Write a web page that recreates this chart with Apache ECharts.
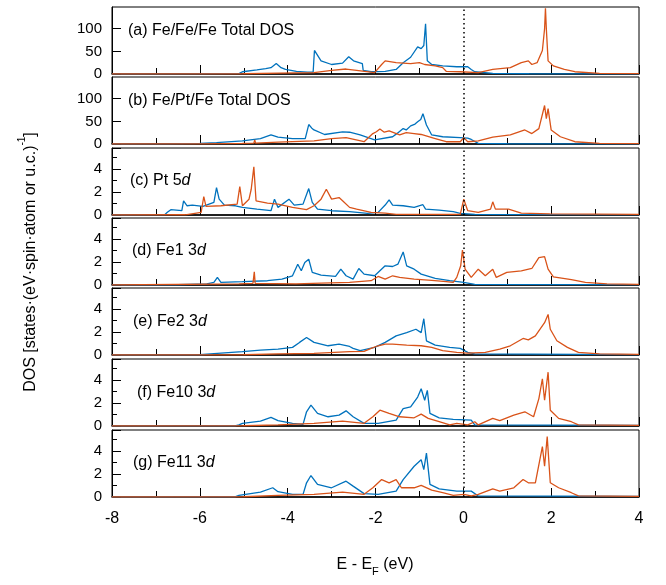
<!DOCTYPE html>
<html>
<head>
<meta charset="utf-8">
<script src="https://cdn.jsdelivr.net/npm/echarts@6/dist/echarts.min.js"></script>
<style>
  html, body { margin: 0; padding: 0; background: #fff; }
  #chart { width: 666px; height: 585px; }
</style>
</head>
<body>
<div id="chart"></div>
<script>
// [E - EF (eV), DOS] pairs, blue = one spin, orange = other
var aBlue = [[-8,0],[-6.5,0.3],[-5.8,1],[-5.1,1.5],[-5.03,5],[-4.7,9],[-4.5,12],[-4.38,14],[-4.26,23],[-4.15,14],[-4.05,10],[-3.8,6],[-3.55,4],[-3.42,4],[-3.39,52],[-3.24,29],[-3.0,21],[-2.75,24],[-2.61,38],[-2.5,29],[-2.3,23],[-2.28,8],[-2.1,5],[-1.78,6],[-1.53,10],[-1.37,25],[-1.2,37],[-1.04,60],[-0.96,56],[-0.9,63],[-0.86,111],[-0.82,29],[-0.72,21],[-0.47,18],[-0.15,16],[0.1,16],[0.18,10],[0.26,5],[0.67,1.5],[1.5,0.5],[4,0.3]];
var aOrange = [[-8,0],[-5,0.5],[-4.2,2],[-3.4,3],[-3.0,8],[-2.67,11],[-2.43,8],[-2.02,3],[-1.86,21],[-1.78,29],[-1.53,25],[-1.2,23],[-1.0,25],[-0.88,21],[-0.64,18],[-0.47,14],[-0.39,6],[-0.07,5],[0.34,3],[0.67,10],[1.07,14],[1.32,25],[1.48,29],[1.56,21],[1.68,25],[1.8,52],[1.85,100],[1.87,145],[1.89,100],[1.93,29],[2.05,18],[2.3,10],[2.54,5],[3.1,1.5],[4,1]];

var bBlue = [[-8,0],[-6.74,0.3],[-6.0,1.5],[-5.62,3],[-5.6,6],[-5.58,3],[-5.03,7],[-4.62,12],[-4.38,20],[-4.22,15],[-3.89,12],[-3.6,12],[-3.52,43],[-3.45,35],[-3.4,31],[-3.16,21],[-2.75,27],[-2.59,26],[-2.35,20],[-2.02,9],[-1.61,16],[-1.5,24],[-1.37,34],[-1.3,31],[-1.2,40],[-1.1,44],[-1.04,49],[-0.97,54],[-0.92,67],[-0.84,42],[-0.72,20],[-0.47,16],[-0.07,14],[0.1,13],[0.18,10],[0.34,1.5],[1,0.5],[4,0.3]];
var bOrange = [[-8,0],[-5.9,0.3],[-5.03,1.5],[-4.77,2],[-4.75,9],[-4.73,2],[-4.22,4],[-3.4,7],[-3.0,12],[-2.67,14],[-2.26,5],[-2.06,23],[-1.98,27],[-1.9,33],[-1.8,26],[-1.69,29],[-1.45,20],[-1.3,25],[-1.12,23],[-0.96,21],[-0.64,12],[-0.39,5],[-0.07,5],[0.01,14],[0.1,5],[0.34,7],[0.67,15],[1.07,20],[1.4,31],[1.56,23],[1.72,34],[1.85,85],[1.89,56],[1.93,78],[2.0,31],[2.21,16],[2.54,5],[3.1,1.5],[4,1]];

var cBlue = [[-8,0],[-6.8,0.03],[-6.74,0.23],[-6.66,0.46],[-6.41,0.37],[-6.37,1.23],[-6.29,0.8],[-6.17,0.86],[-5.93,0.74],[-5.68,1.09],[-5.62,2.37],[-5.56,1.37],[-5.44,0.86],[-5.19,0.8],[-5.03,0.66],[-4.7,0.51],[-4.38,0.37],[-4.3,1.37],[-4.22,0.66],[-3.97,1.37],[-3.85,0.86],[-3.65,0.94],[-3.52,2.29],[-3.44,1.09],[-3.32,0.51],[-3.0,0.37],[-2.59,0.29],[-2.18,0.14],[-1.94,0.23],[-1.78,0.86],[-1.69,1.31],[-1.61,0.86],[-1.37,0.8],[-1.12,0.66],[-0.92,0.89],[-0.86,0.51],[-0.55,0.43],[-0.23,0.29],[-0.07,0.14],[0.26,0.06],[4,0.03]];
var cOrange = [[-8,0],[-6.33,0.02],[-5.97,0.23],[-5.91,1.6],[-5.86,0.74],[-5.52,0.8],[-5.15,0.94],[-5.09,2.46],[-5.03,0.8],[-4.88,1.37],[-4.83,2.23],[-4.77,4.17],[-4.72,1.23],[-4.46,1.03],[-4.22,0.94],[-3.89,0.66],[-3.57,0.46],[-3.4,0.8],[-3.24,1.37],[-3.12,2.23],[-3.0,1.37],[-2.83,1.51],[-2.75,1.23],[-2.59,0.66],[-2.43,0.51],[-2.1,0.23],[-1.78,0.17],[-1.53,0.06],[-0.07,0.06],[0.01,1.37],[0.1,0.37],[0.34,0.23],[0.62,0.51],[0.67,1.14],[0.73,0.51],[1.03,0.51],[1.32,0.17],[1.97,0.09],[4,0.05]];

var dBlue = [[-8,0],[-6.5,0.02],[-5.84,0.09],[-5.68,0.23],[-5.6,0.66],[-5.52,0.23],[-5.03,0.29],[-4.46,0.37],[-4.13,0.51],[-3.89,0.8],[-3.77,1.8],[-3.69,1.23],[-3.61,1.94],[-3.52,2.23],[-3.44,1.09],[-3.24,0.86],[-2.91,0.74],[-2.79,1.37],[-2.67,0.8],[-2.51,0.51],[-2.38,1.43],[-2.26,0.94],[-2.02,0.8],[-1.78,1.66],[-1.61,1.6],[-1.49,1.8],[-1.37,2.86],[-1.29,1.66],[-1.12,1.37],[-0.96,0.94],[-0.64,0.57],[-0.31,0.37],[0.01,0.23],[0.26,0.06],[4,0.03]];
var dOrange = [[-8,0],[-5.11,0.09],[-4.79,0.14],[-4.76,1.14],[-4.74,0.14],[-3.81,0.09],[-3.24,0.17],[-2.59,0.23],[-2.1,0.37],[-1.94,0.74],[-1.78,0.51],[-1.61,0.8],[-1.45,0.66],[-1.12,0.51],[-0.72,0.4],[-0.39,0.29],[-0.23,0.23],[-0.15,0.66],[-0.06,1.66],[-0.02,3.03],[0.04,1.37],[0.18,0.66],[0.34,1.37],[0.5,0.8],[0.67,1.37],[0.75,0.66],[0.99,1.09],[1.32,1.23],[1.56,1.43],[1.72,2.37],[1.85,2.46],[1.93,1.37],[2.05,0.71],[2.46,0.46],[2.78,0.23],[3.27,0.09],[4,0.05]];

var eBlue = [[-8,0],[-6,0.02],[-5.6,0.14],[-5.03,0.29],[-4.62,0.43],[-4.22,0.51],[-3.89,0.66],[-3.73,1.09],[-3.57,1.51],[-3.4,1.09],[-3.08,0.8],[-2.83,0.94],[-2.59,0.74],[-2.51,0.57],[-2.35,0.37],[-2.02,0.66],[-1.78,1.09],[-1.53,1.66],[-1.29,1.94],[-1.08,2.23],[-0.96,1.94],[-0.9,3.14],[-0.84,1.23],[-0.64,0.86],[-0.31,0.66],[-0.07,0.57],[0.1,0.23],[0.26,0.09],[4,0.03]];
var eOrange = [[-8,0],[-5,0.02],[-4.22,0.09],[-3.4,0.14],[-2.59,0.29],[-2.26,0.31],[-2.1,0.57],[-1.94,0.8],[-1.78,0.94],[-1.61,0.94],[-1.29,0.86],[-0.96,0.8],[-0.72,0.66],[-0.47,0.37],[-0.15,0.23],[0.1,0.17],[0.5,0.23],[0.83,0.51],[1.07,0.8],[1.36,1.43],[1.48,1.31],[1.64,1.66],[1.85,2.8],[1.93,3.51],[1.98,2.23],[2.13,1.23],[2.37,0.66],[2.62,0.23],[3.1,0.09],[4,0.05]];

var fBlue = [[-8,0],[-5.2,0.02],[-5.11,0.09],[-5.03,0.23],[-4.62,0.43],[-4.38,0.74],[-4.22,0.46],[-3.89,0.23],[-3.65,0.14],[-3.57,1.23],[-3.47,1.8],[-3.32,1.09],[-3.08,0.8],[-2.83,0.94],[-2.67,1.31],[-2.51,0.8],[-2.26,0.23],[-1.94,0.23],[-1.53,0.51],[-1.37,1.51],[-1.2,1.66],[-1.04,2.51],[-0.96,3.23],[-0.88,2.23],[-0.82,3.09],[-0.76,1.09],[-0.55,0.71],[-0.23,0.57],[0.18,0.51],[0.26,0.09],[4,0.05]];
var fOrange = [[-8,0],[-5,0.02],[-4.22,0.09],[-3.4,0.23],[-2.75,0.43],[-2.26,0.23],[-2.06,0.8],[-1.9,1.37],[-1.69,1.09],[-1.45,0.8],[-1.12,0.71],[-0.96,1.03],[-0.8,0.66],[-0.55,0.37],[-0.31,0.09],[-0.15,0.23],[0.1,0.09],[0.26,0.37],[0.34,0.09],[0.67,0.66],[0.83,0.46],[1.15,0.94],[1.4,1.23],[1.6,0.8],[1.72,2.37],[1.8,4.09],[1.85,2.23],[1.93,4.66],[1.98,1.37],[2.17,0.66],[2.46,0.37],[2.62,0.09],[4,0.05]];

var gBlue = [[-8,0],[-5.2,0.02],[-5.11,0.14],[-4.62,0.43],[-4.34,0.8],[-4.22,0.46],[-3.89,0.23],[-3.65,0.23],[-3.57,1.23],[-3.47,1.86],[-3.32,1.09],[-3.0,0.8],[-2.67,1.37],[-2.51,0.94],[-2.26,0.29],[-1.94,0.23],[-1.53,0.51],[-1.37,1.51],[-1.12,2.66],[-0.96,3.23],[-0.9,2.37],[-0.84,3.8],[-0.76,1.09],[-0.55,0.71],[-0.15,0.51],[0.18,0.51],[0.34,0.09],[4,0.05]];
var gOrange = [[-8,0],[-5,0.02],[-4.22,0.14],[-3.4,0.23],[-2.75,0.43],[-2.26,0.23],[-2.06,0.8],[-1.86,1.51],[-1.69,1.23],[-1.53,1.51],[-1.41,0.8],[-1.12,0.8],[-0.96,1.0],[-0.72,0.6],[-0.47,0.37],[-0.23,0.14],[0.01,0.23],[0.18,0.09],[0.34,0.23],[0.67,0.71],[0.83,0.51],[1.15,0.8],[1.36,1.51],[1.48,1.23],[1.64,1.23],[1.8,4.37],[1.85,2.66],[1.91,5.23],[1.98,1.23],[2.17,0.8],[2.46,0.37],[2.62,0.09],[4,0.05]];

var panelLabels = ['(a) Fe/Fe/Fe Total DOS', '(b) Fe/Pt/Fe Total DOS', '(c) Pt 5{i|d}', '(d) Fe1 3{i|d}', '(e) Fe2 3{i|d}', '(f) Fe10 3{i|d}', '(g) Fe11 3{i|d}'];

var blues = [aBlue, bBlue, cBlue, dBlue, eBlue, fBlue, gBlue];
var oranges = [aOrange, bOrange, cOrange, dOrange, eOrange, fOrange, gOrange];
var yMax = [148, 148, 5.8, 5.8, 5.8, 5.8, 5.8];
var yStep = [50, 50, 2, 2, 2, 2, 2];

var zeroY = [74, 144, 215, 285, 355, 426, 497];
var panelH = 67;
var labelX = [128, 128, 130, 132, 133, 137, 133];
var labelDy = [43, 43, 34, 34, 33, 33, 34];

var font = '"Liberation Sans", Arial, sans-serif';
var BLUE = '#0072BD', ORANGE = '#D95319';

var grids = [], xAxes = [], yAxes = [], series = [], graphics = [];
for (var i = 0; i < 7; i++) {
    var last = i === 6;
    grids.push({left: 112, right: 27, top: zeroY[i] - panelH, height: panelH,
        show: true, borderColor: '#000', borderWidth: 1});
    // ticks point into the plot: outward ticks were not drawn in earlier runs
    xAxes.push({
        gridIndex: i, type: 'value', min: -8, max: 4, interval: 2,
        axisLine: {show: true, onZero: false, lineStyle: {color: '#000', width: 1.5}},
        axisTick: {show: true, inside: true, length: 9, lineStyle: {color: '#000', width: 1}},
        minorTick: {show: true, splitNumber: 2, length: 6, lineStyle: {color: '#000', width: 1}},
        splitLine: {show: false},
        axisLabel: {show: last, color: '#000', fontSize: 16, fontFamily: font, margin: 14}
    });
    yAxes.push({
        gridIndex: i, type: 'value', min: 0, max: yMax[i], interval: yStep[i],
        axisLine: {show: true, onZero: false, lineStyle: {color: '#000', width: 1}},
        axisTick: {show: true, inside: true, length: 9, lineStyle: {color: '#000', width: 1}},
        minorTick: {show: i > 1, splitNumber: 2, length: 5, lineStyle: {color: '#000', width: 1}},
        splitLine: {show: false},
        axisLabel: {color: '#000', fontSize: 15, fontFamily: font, margin: 10, showMaxLabel: false}
    });
    series.push({
        type: 'line', xAxisIndex: i, yAxisIndex: i, data: blues[i], showSymbol: false,
        lineStyle: {color: BLUE, width: 1.3}, itemStyle: {color: BLUE},
        markLine: {silent: true, symbol: ['none', 'none'], label: {show: false},
            lineStyle: {color: '#000', type: [1.5, 3], width: 1.5}, data: [{xAxis: 0}]}
    });
    series.push({
        type: 'line', xAxisIndex: i, yAxisIndex: i, data: oranges[i], showSymbol: false,
        lineStyle: {color: ORANGE, width: 1.3}, itemStyle: {color: ORANGE}
    });
    graphics.push({
        type: 'text', x: labelX[i], y: zeroY[i] - labelDy[i],
        style: {text: panelLabels[i], fill: '#000', fontSize: 16, fontFamily: font, verticalAlign: 'middle',
            rich: {i: {fontStyle: 'italic', fontSize: 16, fontFamily: font}}}
    });
}

graphics.push({
    type: 'text', x: 28, y: 262, rotation: Math.PI / 2,
    style: {text: '{n|DOS [states·(eV·spin·atom or u.c.)}{s|-1}{n|]}', fill: '#000', align: 'center', verticalAlign: 'middle',
        rich: {n: {fontSize: 16, fontFamily: font, lineHeight: 22, verticalAlign: 'bottom'},
               s: {fontSize: 10, fontFamily: font, lineHeight: 22, verticalAlign: 'top'}}}
});
graphics.push({
    type: 'text', x: 375, y: 567,
    style: {text: '{n|E - E}{s|F}{n| (eV)}', fill: '#000', align: 'center', verticalAlign: 'middle',
        rich: {n: {fontSize: 16, fontFamily: font, lineHeight: 20, verticalAlign: 'top'},
               s: {fontSize: 11, fontFamily: font, lineHeight: 20, verticalAlign: 'bottom'}}}
});

var chart = echarts.init(document.getElementById('chart'));
chart.setOption({
    animation: false,
    grid: grids,
    xAxis: xAxes,
    yAxis: yAxes,
    series: series,
    graphic: graphics
});
</script>
</body>
</html>
